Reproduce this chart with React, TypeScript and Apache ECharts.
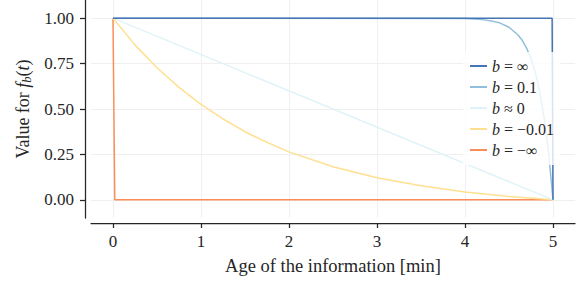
import { useEffect, useRef } from 'react';
import * as echarts from 'echarts';

const xTicks = [0, 1, 2, 3, 4, 5];
const yTicks = [0, 0.25, 0.5, 0.75, 1];
const seriesNames = ['b=∞', 'b=0.1', 'b≈0', 'b=−0.01', 'b=−∞'];
const legendLabels = ['{i|b} = ∞', '{i|b} = 0.1', '{i|b} ≈ 0', '{i|b} = −0.01', '{i|b} = −∞'];
const colors = ['#4575b4', '#91bfdb', '#e0f3f8', '#fee090', '#fc8d59'];

const bInf = [[0, 1], [4.99, 1], [5, 0]];
const bPos = [
  [0, 1], [4.0, 0.998], [4.2, 0.992], [4.3, 0.985], [4.4, 0.973], [4.5, 0.95],
  [4.6, 0.909], [4.65, 0.878], [4.7, 0.835], [4.75, 0.777], [4.8, 0.699],
  [4.85, 0.593], [4.9, 0.451], [4.95, 0.259], [5, 0],
];
const bZero = [[0, 1], [5, 0]];
const bNeg = [
  [0, 1], [0.25, 0.853], [0.5, 0.727], [0.75, 0.619], [1, 0.525], [1.25, 0.445],
  [1.5, 0.375], [1.75, 0.316], [2, 0.264], [2.5, 0.182], [3, 0.121], [3.5, 0.077],
  [4, 0.043], [4.5, 0.018], [5, 0],
];
const bNegInf = [[0, 1], [0.02, 0], [5, 0]];
const seriesData = [bInf, bPos, bZero, bNeg, bNegInf];

const FONT = 'Liberation Serif';
const AX = '#262626';

export default function App() {
  const ref = useRef<HTMLDivElement>(null);
  useEffect(() => {
    document.body.style.margin = '0';
    if (!ref.current) return;
    const chart = echarts.init(ref.current, null, { renderer: 'svg' });
    chart.setOption({
      animation: false,
      textStyle: { fontFamily: FONT },
      grid: { left: 91, right: 3, top: 0, bottom: 66 },
      xAxis: {
        type: 'value',
        min: -0.25,
        max: 5.25,
        offset: 5,
        name: 'Age of the information [min]',
        nameLocation: 'middle',
        nameGap: 33,
        nameTextStyle: { fontFamily: FONT, fontSize: 18.5, color: AX },
        axisLine: { show: true, onZero: false, lineStyle: { color: AX, width: 1.25 } },
        axisTick: { show: true, length: 5, customValues: xTicks, lineStyle: { color: AX, width: 1.25 } },
        axisLabel: { customValues: xTicks, fontFamily: FONT, fontSize: 17, color: AX, margin: 10, formatter: (v: number) => String(v) },
        splitLine: { show: true, lineStyle: { color: '#efefef', width: 1 } },
      },
      yAxis: {
        type: 'value',
        min: -0.1,
        max: 1.1,
        offset: 6,
        name: 'Value for {i|f}{s|b}({i|t})',
        nameLocation: 'middle',
        nameGap: 49,
        nameTextStyle: {
          fontFamily: FONT, fontSize: 18, color: AX,
          rich: {
            i: { fontFamily: FONT, fontSize: 18, fontStyle: 'italic', color: AX },
            s: { fontFamily: FONT, fontSize: 12.5, fontStyle: 'italic', color: AX, padding: [8, 0, 0, 0] },
          },
        },
        axisLine: { show: true, onZero: false, lineStyle: { color: AX, width: 1.25 } },
        axisTick: { show: true, length: 5, customValues: yTicks, lineStyle: { color: AX, width: 1.25 } },
        axisLabel: { customValues: yTicks, fontFamily: FONT, fontSize: 17, color: AX, margin: 11, formatter: (v: number) => v.toFixed(2) },
        splitLine: { show: true, lineStyle: { color: '#efefef', width: 1 } },
      },
      legend: {
        orient: 'vertical',
        left: 463,
        top: 52,
        padding: [6, 6, 7, 7],
        itemWidth: 17,
        itemHeight: 2,
        itemGap: 5,
        icon: 'rect',
        backgroundColor: 'rgba(255,255,255,0.8)',
        data: seriesNames,
        formatter: (name: string) => legendLabels[seriesNames.indexOf(name)],
        textStyle: {
          fontFamily: FONT, fontSize: 16, color: AX, lineHeight: 14,
          rich: { i: { fontFamily: FONT, fontSize: 16, fontStyle: 'italic', color: AX, lineHeight: 14 } },
        },
      },
      series: seriesNames.map((n, k) => ({
        name: n,
        type: 'line',
        data: seriesData[k],
        symbol: 'none',
        showSymbol: false,
        color: colors[k],
        lineStyle: { color: colors[k], width: 1.5 },
        z: 2 + (seriesNames.length - k) * 0.01,
      })),
    });
    return () => chart.dispose();
  }, []);
  return <div ref={ref} style={{ width: 578, height: 284 }} />;
}
